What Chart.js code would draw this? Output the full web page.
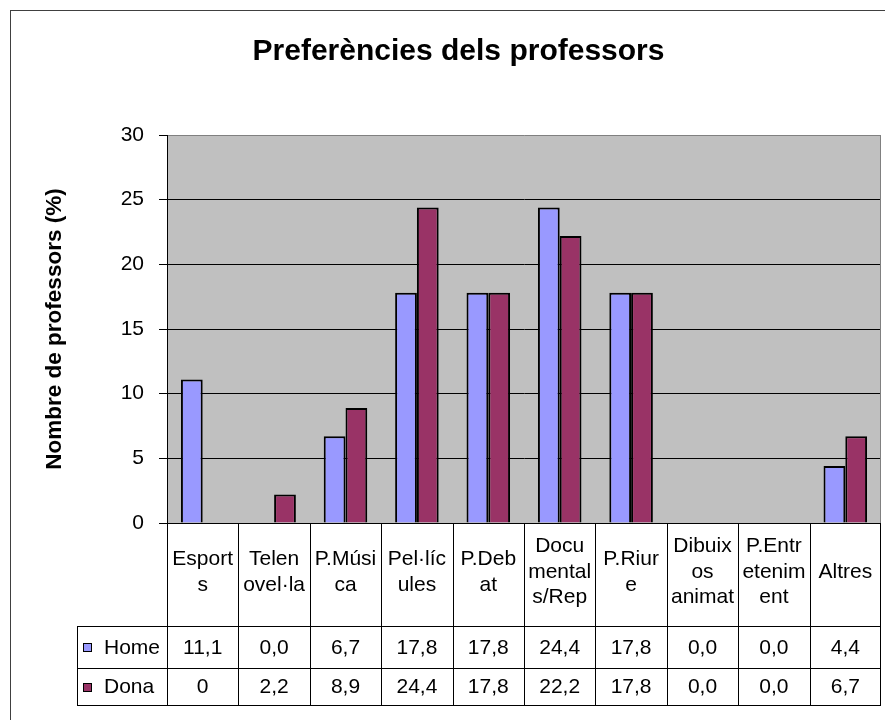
<!DOCTYPE html>
<html><head><meta charset="utf-8">
<script src="https://cdn.jsdelivr.net/npm/chart.js@4.4.0/dist/chart.umd.min.js"></script>
<style>html,body{margin:0;padding:0;background:#fff;}canvas{display:block;}</style>
</head><body>
<canvas id="c" width="885" height="720"></canvas>
<script>
// ---- data ----
const categories = [
  ['Esport','s'], ['Telen','ovel·la'], ['P.Músi','ca'], ['Pel·líc','ules'], ['P.Deb','at'],
  ['Docu','mental','s/Rep'], ['P.Riur','e'], ['Dibuix','os','animat'], ['P.Entr','etenim','ent'], ['Altres']
];
const seriesNames = ['Home', 'Dona'];
const homeValues = [11.1, 0.0, 6.7, 17.8, 17.8, 24.4, 17.8, 0.0, 0.0, 4.4];
const donaValues = [0, 2.2, 8.9, 24.4, 17.8, 22.2, 17.8, 0.0, 0.0, 6.7];
const homeText = ['11,1','0,0','6,7','17,8','17,8','24,4','17,8','0,0','0,0','4,4'];
const donaText = ['0','2,2','8,9','24,4','17,8','22,2','17,8','0,0','0,0','6,7'];
const yTicks = [0, 5, 10, 15, 20, 25, 30];
const chartTitle = 'Preferències dels professors';
const yTitle = 'Nombre de professors (%)';

const FONT = "'Liberation Sans', Arial, sans-serif";
const homeColor = '#9999FF';
const donaColor = '#993366';

const bgPlugin = {
  id: 'bg',
  beforeDraw(chart) {
    const {ctx, chartArea: ca} = chart;
    ctx.save();
    ctx.fillStyle = '#fff';
    ctx.fillRect(0, 0, chart.width, chart.height);
    ctx.strokeStyle = '#404040';
    ctx.lineWidth = 1;
    ctx.strokeRect(10.5, 10.5, chart.width + 20, chart.height + 20);
    ctx.fillStyle = '#C0C0C0';
    ctx.fillRect(ca.left, ca.top, ca.right - ca.left, ca.bottom - ca.top);
    ctx.restore();
  },
  beforeDatasetsDraw(chart) {
    const {ctx, chartArea: ca} = chart;
    ctx.save();
    ctx.strokeStyle = '#808080';
    ctx.lineWidth = 1;
    ctx.beginPath();
    const xr = Math.round(ca.right) - 0.5;
    ctx.moveTo(xr, ca.top); ctx.lineTo(xr, ca.bottom);
    ctx.stroke();
    ctx.restore();
  }
};

const tablePlugin = {
  id: 'table',
  afterDraw(chart) {
    const {ctx, chartArea: ca} = chart;
    const xs = chart.scales.x;
    const n = categories.length;
    const half = (xs.getPixelForValue(1) - xs.getPixelForValue(0)) / 2;
    const yTop = ca.bottom, yHead = ca.bottom + 103, yMid = ca.bottom + 145, yBot = ca.bottom + 182;
    const xLeg = 77;
    const L = (x1, y1, x2, y2) => { ctx.beginPath(); ctx.moveTo(x1, y1); ctx.lineTo(x2, y2); ctx.stroke(); };
    ctx.save();
    ctx.strokeStyle = '#000';
    ctx.lineWidth = 1;
    for (let i = 0; i <= n; i++) {
      const x = i < n ? xs.getPixelForValue(i) - half : xs.getPixelForValue(n - 1) + half;
      const xr = Math.round(x) + (i === n ? -0.5 : 0.5);
      L(xr, yTop, xr, yBot);
    }
    const right = Math.round(xs.getPixelForValue(n - 1) + half);
    L(xLeg + 0.5, yHead, xLeg + 0.5, yBot);
    [yHead, yMid, yBot].forEach(y => L(xLeg, Math.round(y) + 0.5, right, Math.round(y) + 0.5));

    ctx.fillStyle = '#000';
    ctx.font = '21px ' + FONT;
    ctx.textAlign = 'center';
    ctx.textBaseline = 'middle';
    const lh = 25.5;
    const hc = yTop + 49;
    categories.forEach((lines, i) => {
      const cx = xs.getPixelForValue(i);
      const y0 = hc - (lines.length - 1) * lh / 2;
      lines.forEach((t, k) => ctx.fillText(t, cx, y0 + k * lh));
    });
    const r1 = (yHead + yMid) / 2, r2 = (yMid + yBot) / 2;
    homeText.forEach((t, i) => ctx.fillText(t, xs.getPixelForValue(i), r1 + 1));
    donaText.forEach((t, i) => ctx.fillText(t, xs.getPixelForValue(i), r2 + 1));
    // legend keys
    ctx.textAlign = 'left';
    [[r1, homeColor, seriesNames[0]], [r2, donaColor, seriesNames[1]]].forEach(([y, col, name]) => {
      ctx.fillStyle = col;
      ctx.fillRect(83, Math.round(y) - 4, 9, 9);
      ctx.strokeStyle = '#000';
      ctx.strokeRect(83.5, Math.round(y) - 3.5, 8, 8);
      ctx.fillStyle = '#000';
      ctx.fillText(name, 104, y + 1);
    });
    ctx.restore();
  }
};

new Chart(document.getElementById('c'), {
  type: 'bar',
  data: {
    labels: categories.map(c => c.join('')),
    datasets: [
      { label: seriesNames[0], data: homeValues, backgroundColor: homeColor, borderColor: '#000', borderWidth: 2 },
      { label: seriesNames[1], data: donaValues, backgroundColor: donaColor, borderColor: '#000', borderWidth: 2 }
    ]
  },
  options: {
    responsive: false,
    animation: false,
    events: [],
    layout: { padding: { left: 36, right: 4, top: 10, bottom: 197 } },
    datasets: { bar: { categoryPercentage: 0.61, barPercentage: 1.0 } },
    plugins: {
      legend: { display: false },
      tooltip: { enabled: false },
      title: {
        display: true, text: chartTitle, color: '#000',
        font: { family: FONT, size: 30, weight: 'bold', lineHeight: 1.2 },
        padding: { top: 24, bottom: 65 }
      }
    },
    scales: {
      x: {
        display: true,
        grid: { display: false },
        border: { display: false },
        ticks: { display: false },
        afterFit(s) { s.height = 0; }
      },
      y: {
        min: 0, max: 30,
        afterBuildTicks(s) { s.ticks = yTicks.map(v => ({ value: v })); },
        ticks: { color: '#000', padding: 15, font: { family: FONT, size: 21 } },
        grid: {
          color: ctx => (ctx.tick && ctx.tick.value === 30) ? '#808080' : '#000',
          tickColor: '#000', tickLength: 8, lineWidth: 1
        },
        border: { display: true, color: '#000', width: 1 },
        title: {
          display: true, text: yTitle, color: '#000',
          font: { family: FONT, size: 22.5, weight: 'bold', lineHeight: 1.0 },
          padding: { top: 8, bottom: 0 }
        },
        afterFit(s) { s.width = 131; }
      }
    }
  },
  plugins: [bgPlugin, tablePlugin]
});
</script>
</body></html>
